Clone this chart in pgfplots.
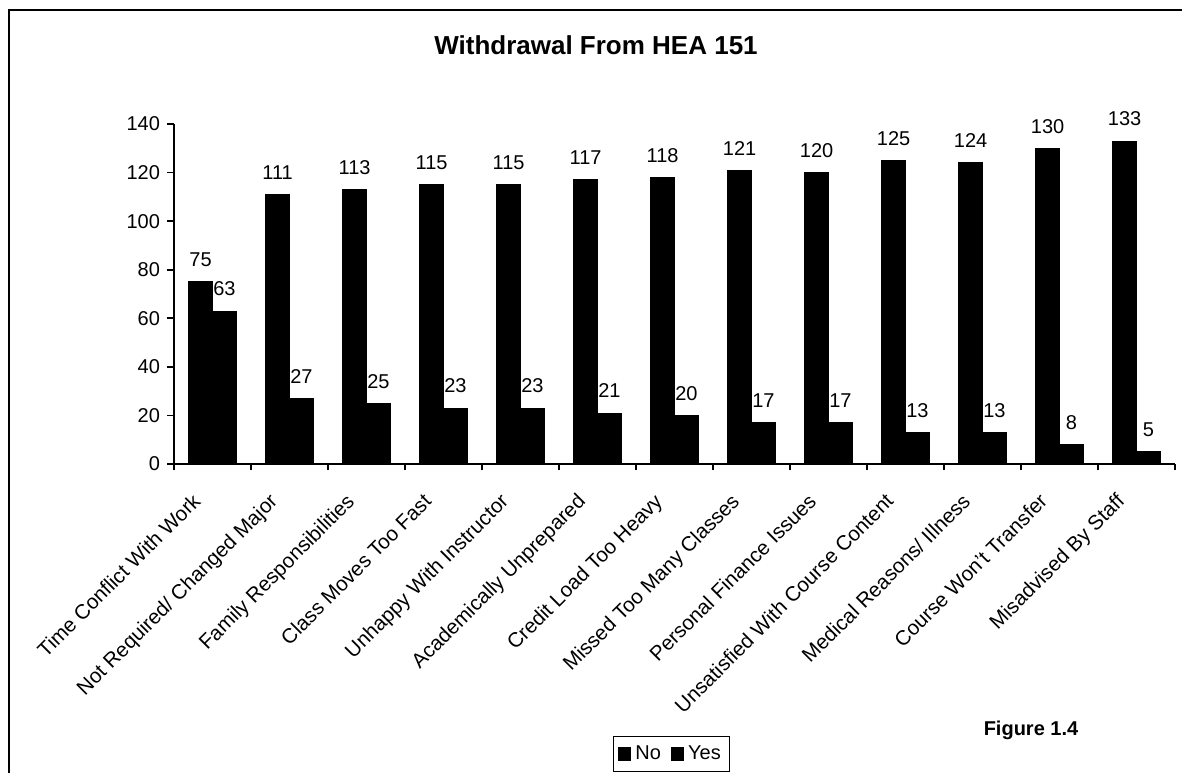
\documentclass[border=0pt]{standalone}
\usepackage{fontspec}
\setmainfont{Liberation Sans}
\usepackage{pgfplots}
\pgfplotsset{compat=1.18}

\begin{document}
\begin{tikzpicture}
% 1 px of the reference = 0.5pt
\begin{axis}[
    at={(87pt,154pt)}, anchor=south west,
    scale only axis,
    width=500.5pt, height=170pt,
    ybar=0pt, bar width=0.31,
    xmin=-0.5, xmax=12.5,
    ymin=0, ymax=140,
    ytick={0,20,...,140},
    xtick={0,...,12},
    xticklabels={Time Conflict With Work, Not Required/ Changed Major, Family Responsibilities,
        Class Moves Too Fast, Unhappy With Instructor, Academically Unprepared,
        Credit Load Too Heavy, Missed Too Many Classes, Personal Finance Issues,
        Unsatisfied With Course Content, Medical Reasons/ Illness, Course Won't Transfer,
        Misadvised By Staff},
    minor xtick={-0.5,0.5,...,12.5},
    major x tick style={draw=none},
    tick align=outside,
    major tick length=3.5pt, minor tick length=3pt,
    axis x line*=bottom, axis y line*=left,
    axis line style={line width=0.8pt},
    tick style={line width=0.8pt, black},
    x tick label style={rotate=45, anchor=north east, inner sep=1pt, xshift=-13.9pt, yshift=1.3pt,
        font=\fontsize{10.3}{12}\selectfont},
    y tick label style={font=\fontsize{10}{12}\selectfont},
    /pgf/number format/assume math mode=true,
    nodes near coords,
    every node near coord/.append style={font=\fontsize{10}{12}\selectfont, yshift=4pt},
    clip=false,
    legend columns=2,
    legend style={at={(0.497,-0.853)}, anchor=center, draw=black, line width=0.6pt,
        font=\fontsize{10}{12}\selectfont, inner sep=2.5pt,
        /tikz/every even column/.append style={column sep=3pt}},
]
\addplot[fill=black, draw=black,
    legend image code/.code={\fill[black] (0pt,-3pt) rectangle (6pt,3pt);}]
    coordinates {(0,75) (1,111) (2,113) (3,115) (4,115) (5,117) (6,118)
                 (7,121) (8,120) (9,125) (10,124) (11,130) (12,133)};
\addplot[fill=black, draw=black,
    legend image code/.code={\fill[black] (0pt,-3pt) rectangle (6pt,3pt);}]
    coordinates {(0,63) (1,27) (2,25) (3,23) (4,23) (5,21) (6,20)
                 (7,17) (8,17) (9,13) (10,13) (11,8) (12,5)};
\legend{No, Yes}
\end{axis}
% outer frame of the chart area
\draw[line width=1pt] (4.5pt,-20pt) -- (4.5pt,381pt) -- (620pt,381pt);
\node[font=\bfseries\fontsize{13}{15}\selectfont] at (298pt,363.5pt) {Withdrawal From HEA 151};
\node[font=\bfseries\fontsize{10}{12}\selectfont] at (515.5pt,21pt) {Figure 1.4};
\pgfresetboundingbox
\useasboundingbox (0,0) rectangle (591pt,386pt);
\end{tikzpicture}
\end{document}
